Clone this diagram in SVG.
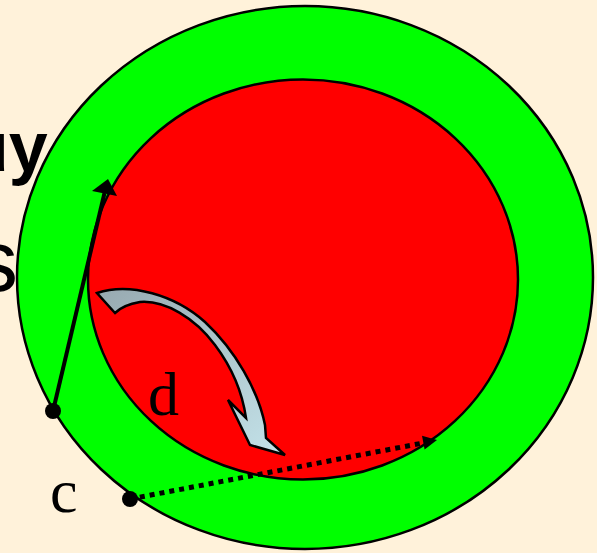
<svg xmlns="http://www.w3.org/2000/svg" width="597" height="553" viewBox="0 0 597 553">
<style>
.bgtext{font-family:"Liberation Sans",Arial,sans-serif;fill:#000}
.lbl{font-family:"Liberation Serif","Times New Roman",serif;font-size:62px;fill:#000}
.ring{stroke:#000;stroke-width:2.5}
</style>
<defs>
<linearGradient id="gArrow" x1="0" y1="0" x2="1" y2="1">
<stop offset="0" stop-color="#97A9B0"/>
<stop offset="1" stop-color="#C4E3EA"/>
</linearGradient>
</defs>
<rect width="597" height="553" fill="#FFF2DA"/>
<g id="background-text">
<text class="bgtext" x="-34" y="171" font-size="70" font-weight="bold">uy</text>
<text class="bgtext" x="-26" y="291" font-size="88">s</text>
</g>
<g id="outer-ring">
<ellipse class="ring" cx="305" cy="277.5" rx="288" ry="271.5" fill="#00FF00"/>
</g>
<g id="inner-core">
<ellipse class="ring" cx="303" cy="279.5" rx="215" ry="200" fill="#FF0000"/>
</g>
<g id="curved-arrow">
<path d="M97,293 C130,282 175,295 205,322 C235,350 258,390 265,425 L266,438 L285,455 L250,445 L228,400 L246,418 C242,390 230,365 215,345 C195,318 165,300 140,302 C128,304 120,308 115,313 Z" fill="url(#gArrow)" stroke="#000" stroke-width="2.5" stroke-linejoin="miter"/>
</g>
<g id="connectors">
<line x1="53" y1="411" x2="104.5" y2="193" stroke="#000" stroke-width="4"/>
<polygon points="108,179 92,191 117,196" fill="#000"/>
<circle cx="53" cy="411" r="8" fill="#000"/>
<line x1="130" y1="499" x2="423" y2="443" stroke="#000" stroke-width="5" stroke-dasharray="5 5"/>
<polygon points="437,440 422,435.7 424.6,449.5" fill="#000"/>
<circle cx="130" cy="499" r="8" fill="#000"/>
</g>
<g id="labels">
<text class="lbl" x="50" y="512">c</text>
<text class="lbl" x="148" y="415">d</text>
</g>
</svg>
